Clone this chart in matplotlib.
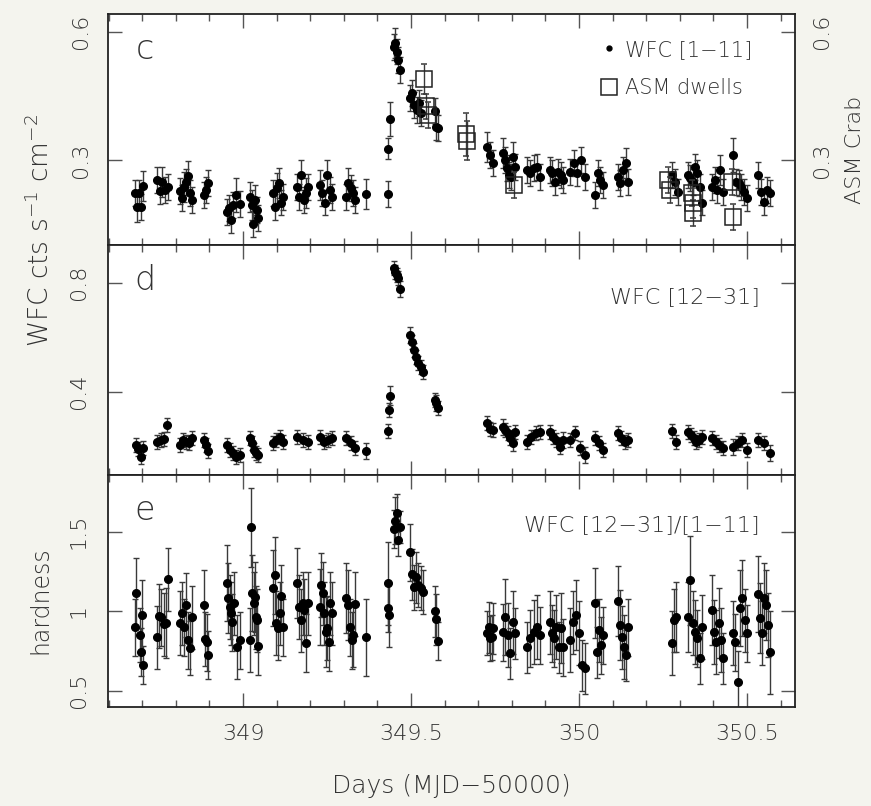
import numpy as np
import matplotlib
matplotlib.use('Agg')
import matplotlib.pyplot as plt
from matplotlib.lines import Line2D
from matplotlib.ticker import MultipleLocator

plt.rcParams['font.family'] = ['DejaVu Sans']
plt.rcParams['font.weight'] = 'light'
plt.rcParams['axes.labelweight'] = 'light'
plt.rcParams['mathtext.fontset'] = 'dejavusans'

## panel c : WFC [1-11]
t_c = [348.679, 348.684, 348.690, 348.696, 348.702,
       348.745, 348.752, 348.760, 348.768, 348.776,
       348.812, 348.818, 348.824, 348.830, 348.836, 348.842, 348.848,
       348.884, 348.890, 348.896,
       348.952, 348.958, 348.964, 348.970, 348.980, 348.990,
       349.021, 349.026, 349.031, 349.036, 349.041, 349.045,
       349.089, 349.095, 349.101, 349.107, 349.113, 349.119,
       349.161, 349.167, 349.173, 349.180, 349.187, 349.193,
       349.229, 349.236, 349.243, 349.250, 349.258, 349.265,
       349.307, 349.313, 349.320, 349.327, 349.333,
       349.366,
       349.430, 349.432, 349.437,
       349.449, 349.453, 349.457, 349.461, 349.467,
       349.497, 349.503, 349.510, 349.517, 349.524, 349.531,
       349.571, 349.575, 349.580,
       349.726, 349.735, 349.744,
       349.774, 349.780, 349.786, 349.792, 349.798, 349.804, 349.810,
       349.845, 349.855, 349.865, 349.875, 349.884,
       349.914, 349.921, 349.929, 349.937, 349.945, 349.952,
       349.973, 349.984, 349.995, 350.006, 350.018,
       350.048, 350.056, 350.064, 350.071,
       350.116, 350.123, 350.131, 350.139, 350.146,
       350.277, 350.286, 350.295,
       350.324, 350.331, 350.338, 350.345, 350.352, 350.359, 350.366,
       350.396, 350.404, 350.412, 350.420, 350.429,
       350.458, 350.466, 350.475, 350.483, 350.492, 350.500,
       350.533, 350.542, 350.551, 350.560, 350.568]
f_c = [0.223, 0.190, 0.223, 0.190, 0.239,
       0.253, 0.228, 0.249, 0.230, 0.237,
       0.228, 0.211, 0.237, 0.249, 0.263, 0.223, 0.206,
       0.218, 0.230, 0.246,
       0.178, 0.188, 0.160, 0.195, 0.218, 0.197,
       0.213, 0.195, 0.150, 0.206, 0.183, 0.164,
       0.223, 0.190, 0.235, 0.246, 0.200, 0.213,
       0.237, 0.213, 0.265, 0.206, 0.223, 0.237,
       0.242, 0.223, 0.200, 0.265, 0.230, 0.213,
       0.213, 0.246, 0.235, 0.223, 0.206,
       0.220,
       0.220, 0.326, 0.396,
       0.564, 0.573, 0.553, 0.534, 0.510,
       0.445, 0.457, 0.429, 0.417, 0.433, 0.410,
       0.415, 0.377, 0.375,
       0.330, 0.312, 0.293,
       0.316, 0.300, 0.281, 0.265, 0.260, 0.307, 0.284,
       0.277, 0.270, 0.281, 0.284, 0.260,
       0.277, 0.270, 0.249, 0.272, 0.265, 0.253,
       0.272, 0.293, 0.270, 0.300, 0.260,
       0.218, 0.270, 0.253, 0.242,
       0.260, 0.246, 0.277, 0.293, 0.249,
       0.265, 0.249, 0.225,
       0.265, 0.258, 0.249, 0.284, 0.270, 0.237, 0.200,
       0.237, 0.253, 0.230, 0.277, 0.225,
       0.312, 0.249, 0.246, 0.237, 0.225, 0.211,
       0.265, 0.225, 0.202, 0.230, 0.223]
e_c = [0.030, 0.035, 0.030, 0.030, 0.035,
       0.030, 0.030, 0.035, 0.030, 0.030,
       0.030, 0.030, 0.035, 0.030, 0.035, 0.030, 0.030,
       0.030, 0.030, 0.030,
       0.030, 0.030, 0.030, 0.030, 0.040, 0.030,
       0.035, 0.035, 0.030, 0.035, 0.030, 0.030,
       0.030, 0.030, 0.035, 0.035, 0.030, 0.030,
       0.030, 0.030, 0.035, 0.030, 0.035, 0.030,
       0.035, 0.030, 0.030, 0.035, 0.030, 0.030,
       0.030, 0.035, 0.030, 0.030, 0.030,
       0.035,
       0.030, 0.025, 0.040,
       0.030, 0.035, 0.030, 0.030, 0.030,
       0.030, 0.030, 0.030, 0.030, 0.030, 0.030,
       0.030, 0.030, 0.030,
       0.035, 0.030, 0.030,
       0.035, 0.030, 0.030, 0.030, 0.030, 0.035, 0.030,
       0.030, 0.030, 0.030, 0.030, 0.030,
       0.030, 0.030, 0.030, 0.030, 0.030, 0.030,
       0.030, 0.030, 0.030, 0.030, 0.030,
       0.030, 0.030, 0.030, 0.030,
       0.030, 0.030, 0.030, 0.035, 0.030,
       0.030, 0.030, 0.030,
       0.030, 0.030, 0.030, 0.030, 0.030, 0.030, 0.030,
       0.030, 0.030, 0.030, 0.035, 0.030,
       0.040, 0.030, 0.030, 0.030, 0.030, 0.030,
       0.030, 0.030, 0.030, 0.030, 0.030]

## ASM dwells
t_asm = [349.539, 349.545, 349.552, 349.665, 349.668, 349.807,
         350.265, 350.270, 350.336, 350.338, 350.340, 350.456, 350.458]
f_asm = [0.490, 0.425, 0.405, 0.360, 0.345, 0.242,
         0.253, 0.230, 0.223, 0.200, 0.176, 0.249, 0.167]
e_asm = [0.035, 0.030, 0.030, 0.050, 0.045, 0.030,
         0.030, 0.030, 0.030, 0.035, 0.030, 0.030, 0.030]

## panel d : WFC [12-31]
t_d = [348.680, 348.688, 348.695, 348.702,
       348.745, 348.755, 348.765, 348.774,
       348.812, 348.821, 348.830, 348.839, 348.848,
       348.884, 348.890, 348.896,
       348.952, 348.962, 348.971, 348.980, 348.990,
       349.021, 349.027, 349.033, 349.039, 349.045,
       349.089, 349.099, 349.109, 349.119,
       349.161, 349.177, 349.193,
       349.229, 349.241, 349.253, 349.265,
       349.307, 349.320, 349.333,
       349.366,
       349.430, 349.433, 349.436,
       349.449, 349.453, 349.457, 349.461, 349.467,
       349.497, 349.503, 349.509, 349.515, 349.522, 349.529, 349.536,
       349.571, 349.575, 349.580,
       349.726, 349.735, 349.744,
       349.774, 349.781, 349.788, 349.795, 349.803, 349.810,
       349.845, 349.858, 349.871, 349.884,
       349.914, 349.923, 349.933, 349.943, 349.952,
       349.973, 349.988, 350.003, 350.018,
       350.048, 350.060, 350.071,
       350.116, 350.126, 350.136, 350.146,
       350.277, 350.290,
       350.324, 350.332, 350.341, 350.349, 350.358, 350.366,
       350.396, 350.407, 350.418, 350.429,
       350.458, 350.472, 350.486, 350.500,
       350.533, 350.551, 350.568]
f_d = [0.204, 0.190, 0.160, 0.193,
       0.216, 0.223, 0.226, 0.277,
       0.204, 0.223, 0.216, 0.211, 0.230,
       0.223, 0.204, 0.182,
       0.204, 0.186, 0.175, 0.160, 0.168,
       0.230, 0.211, 0.186, 0.175, 0.168,
       0.211, 0.223, 0.234, 0.216,
       0.234, 0.223, 0.216,
       0.234, 0.216, 0.223, 0.230,
       0.230, 0.211, 0.193,
       0.182,
       0.256, 0.333, 0.385,
       0.853, 0.840, 0.828, 0.817, 0.776,
       0.608, 0.583, 0.553, 0.527, 0.505, 0.490, 0.472,
       0.370, 0.358, 0.340,
       0.285, 0.263, 0.260,
       0.270, 0.260, 0.248, 0.230, 0.211, 0.252,
       0.216, 0.234, 0.248, 0.252,
       0.252, 0.234, 0.223, 0.197, 0.223,
       0.223, 0.248, 0.193, 0.168,
       0.230, 0.211, 0.186,
       0.248, 0.230, 0.216, 0.223,
       0.256, 0.216,
       0.252, 0.241, 0.230, 0.216, 0.223, 0.234,
       0.230, 0.216, 0.204, 0.193,
       0.197, 0.211, 0.223, 0.186,
       0.223, 0.211, 0.175]
e_d = [0.025, 0.025, 0.025, 0.025,
       0.025, 0.025, 0.025, 0.025,
       0.025, 0.025, 0.025, 0.025, 0.025,
       0.025, 0.025, 0.025,
       0.025, 0.025, 0.025, 0.025, 0.025,
       0.025, 0.025, 0.025, 0.025, 0.025,
       0.025, 0.025, 0.025, 0.025,
       0.025, 0.025, 0.025,
       0.025, 0.025, 0.025, 0.025,
       0.025, 0.025, 0.025,
       0.030,
       0.025, 0.025, 0.035,
       0.025, 0.025, 0.025, 0.025, 0.030,
       0.030, 0.025, 0.025, 0.025, 0.025, 0.025, 0.025,
       0.025, 0.030, 0.025,
       0.025, 0.025, 0.025,
       0.030, 0.025, 0.025, 0.025, 0.030, 0.025,
       0.025, 0.025, 0.025, 0.025,
       0.025, 0.025, 0.025, 0.025, 0.030,
       0.025, 0.025, 0.025, 0.030,
       0.025, 0.025, 0.025,
       0.025, 0.025, 0.025, 0.025,
       0.025, 0.025,
       0.025, 0.025, 0.025, 0.025, 0.025, 0.025,
       0.025, 0.025, 0.025, 0.025,
       0.030, 0.025, 0.025, 0.025,
       0.025, 0.025, 0.030]

## panel e : hardness
t_e = [348.679, 348.682, 348.693, 348.696, 348.700, 348.703,
       348.745, 348.751, 348.757, 348.764, 348.770, 348.777,
       348.812, 348.818, 348.824, 348.830, 348.836, 348.842, 348.848,
       348.884, 348.888, 348.892, 348.896,
       348.952, 348.956, 348.960, 348.964, 348.968, 348.974, 348.982, 348.990,
       349.021, 349.024, 349.028, 349.032, 349.036, 349.039, 349.042, 349.045,
       349.089, 349.094, 349.099, 349.104, 349.109, 349.114, 349.119,
       349.161, 349.166, 349.172, 349.177, 349.182, 349.188, 349.193,
       349.229, 349.233, 349.238, 349.242, 349.247, 349.251, 349.256, 349.260, 349.265,
       349.307, 349.312, 349.318, 349.323, 349.328, 349.333,
       349.366,
       349.430, 349.432, 349.435,
       349.449, 349.453, 349.457, 349.461, 349.467,
       349.497, 349.503, 349.509, 349.515, 349.522, 349.529, 349.536,
       349.571, 349.575, 349.580,
       349.726, 349.731, 349.735, 349.740, 349.744,
       349.774, 349.781, 349.788, 349.795, 349.803, 349.810,
       349.845, 349.855, 349.865, 349.875, 349.884,
       349.914, 349.920, 349.927, 349.933, 349.940, 349.946, 349.952,
       349.973, 349.982, 349.991, 350.000, 350.009, 350.018,
       350.048, 350.054, 350.060, 350.065, 350.071,
       350.116, 350.122, 350.128, 350.134, 350.140, 350.146,
       350.277, 350.283, 350.290,
       350.324, 350.331, 350.338, 350.345, 350.352, 350.359, 350.366,
       350.396, 350.403, 350.409, 350.416, 350.422, 350.429,
       350.458, 350.465, 350.472, 350.479, 350.486, 350.493, 350.500,
       350.533, 350.539, 350.545, 350.551, 350.556, 350.562, 350.568]
f_e = [0.900, 1.113, 0.850, 0.742, 0.975, 0.660,
       0.836, 0.970, 0.962, 0.918, 0.925, 1.200,
       0.925, 0.987, 0.900, 1.038, 0.818, 0.767, 0.962,
       1.038, 0.824, 0.805, 0.723,
       1.176, 1.082, 1.025, 0.987, 0.930, 1.050, 0.774, 0.818,
       0.818, 1.528, 1.113, 1.050, 1.088, 0.962, 0.943, 0.780,
       1.145, 1.226, 0.925, 0.893, 0.987, 1.094, 0.900,
       1.176, 1.025, 0.943, 1.050, 1.006, 0.800, 1.050,
       1.025, 1.164, 1.113, 0.987, 0.868, 0.893, 0.805, 1.050, 0.987,
       1.082, 1.038, 0.900, 0.818, 0.850, 1.044,
       0.836,
       1.176, 1.019, 0.975,
       1.520, 1.570, 1.616, 1.446, 1.530,
       1.371, 1.233, 1.151, 1.214, 1.164, 1.145, 1.120,
       1.000, 0.950, 0.811,
       0.862, 0.900, 0.830, 0.836, 0.893,
       0.868, 0.962, 0.849, 0.736, 0.930, 0.862,
       0.774, 0.830, 0.868, 0.900, 0.849,
       0.930, 0.862, 0.830, 0.900, 0.774, 0.893, 0.774,
       0.818, 0.930, 0.975, 0.862, 0.660, 0.641,
       1.050, 0.742, 0.880, 0.786, 0.849,
       1.063, 0.912, 0.836, 0.774, 0.723, 0.900,
       0.800, 0.943, 0.962,
       0.962, 1.195, 0.925, 0.868, 0.830, 0.704, 0.900,
       1.006, 0.868, 0.805, 0.925, 0.818, 0.704,
       0.862, 0.805, 0.553, 1.019, 1.082, 0.943, 0.862,
       1.107, 0.956, 0.862, 1.082, 1.038, 0.912, 0.742]
e_e = [0.18, 0.22, 0.17, 0.15, 0.22, 0.12,
       0.20, 0.20, 0.18, 0.20, 0.22, 0.20,
       0.20, 0.20, 0.18, 0.20, 0.18, 0.17, 0.20,
       0.22, 0.17, 0.18, 0.15,
       0.24, 0.22, 0.20, 0.20, 0.18, 0.20, 0.20, 0.18,
       0.20, 0.25, 0.24, 0.20, 0.22, 0.20, 0.20, 0.18,
       0.24, 0.24, 0.20, 0.20, 0.20, 0.20, 0.18,
       0.22, 0.20, 0.20, 0.20, 0.20, 0.18, 0.20,
       0.24, 0.20, 0.20, 0.20, 0.22, 0.20, 0.18, 0.20, 0.20,
       0.22, 0.22, 0.18, 0.18, 0.20, 0.20,
       0.24,
       0.26, 0.15, 0.20,
       0.12, 0.15, 0.12, 0.10, 0.10,
       0.18, 0.16, 0.14, 0.16, 0.14, 0.14, 0.14,
       0.16, 0.16, 0.12,
       0.14, 0.16, 0.14, 0.14, 0.16,
       0.18, 0.24, 0.20, 0.16, 0.20, 0.16,
       0.16, 0.18, 0.20, 0.20, 0.18,
       0.20, 0.18, 0.18, 0.20, 0.16, 0.22, 0.18,
       0.20, 0.20, 0.22, 0.20, 0.16, 0.16,
       0.22, 0.16, 0.20, 0.18, 0.18,
       0.22, 0.22, 0.20, 0.20, 0.16, 0.18,
       0.20, 0.20, 0.22,
       0.22, 0.28, 0.20, 0.20, 0.18, 0.16, 0.20,
       0.22, 0.20, 0.20, 0.22, 0.20, 0.16,
       0.20, 0.18, 0.20, 0.24, 0.24, 0.20, 0.18,
       0.24, 0.22, 0.20, 0.22, 0.22, 0.20, 0.26]

bg = '#f4f4ee'
ink = '#333333'

fig = plt.figure(figsize=(8.71, 8.06), dpi=100, facecolor=bg)
L, W = 108/871., 687/871.
ax_c = fig.add_axes([L, 1-245/806., W, 231/806.])
ax_d = fig.add_axes([L, 1-475/806., W, 230/806.])
ax_e = fig.add_axes([L, 1-707/806., W, 232/806.])

eb = dict(fmt='o', ms=5.5, color='k', ecolor='#3a3a3a', elinewidth=1.0,
          capsize=2.5, capthick=1.0)

ax_c.errorbar(t_c, f_c, yerr=e_c, zorder=3, **eb)
ax_c.errorbar(t_asm, f_asm, yerr=e_asm, fmt='s', ms=11, mfc='none', mec='#222222',
              mew=1.1, ecolor='#3a3a3a', elinewidth=1.0, capsize=2.5, zorder=4)
ax_d.errorbar(t_d, f_d, yerr=e_d, **eb)
ax_e.errorbar(t_e, f_e, yerr=e_e, **eb)

ax_c.set_ylim(0.101, 0.641)
ax_d.set_ylim(0.094, 0.938)
ax_e.set_ylim(0.398, 1.857)
ax_c.set_yticks([0.3, 0.6])
ax_c.set_yticklabels(['0.3', '0.6'])
ax_d.set_yticks([0.4, 0.8])
ax_d.set_yticklabels(['0.4', '0.8'])
ax_e.set_yticks([0.5, 1.0, 1.5])
ax_e.set_yticklabels(['0.5', '1', '1.5'])

for ax in (ax_c, ax_d, ax_e):
    ax.set_facecolor('white')
    ax.set_xlim(348.598, 350.643)
    ax.xaxis.set_major_locator(MultipleLocator(0.5))
    ax.xaxis.set_minor_locator(MultipleLocator(0.1))
    ax.tick_params(which='both', direction='in', top=True, right=True,
                   color='#555555', width=1.0)
    ax.tick_params(which='major', length=10)
    ax.tick_params(which='minor', length=5)
    ax.tick_params(axis='y', which='major', length=10, pad=14, labelsize=16,
                   labelcolor=ink, labelrotation=90)
    for lab in ax.get_yticklabels():
        lab.set_verticalalignment('center')
    ax.tick_params(axis='x', labelsize=16, labelcolor=ink, pad=12)
    for s in ax.spines.values():
        s.set_linewidth(1.3)
        s.set_color('#222222')

ax_c.tick_params(axis='x', labelbottom=False)
ax_d.tick_params(axis='x', labelbottom=False)
ax_e.set_xticks([349.0, 349.5, 350.0, 350.5])
ax_e.set_xticklabels(['349', '349.5', '350', '350.5'])

# right-hand ASM scale on top panel
ax_c.tick_params(axis='y', labelright=True, pad=12)
for lab in ax_c.get_yticklabels(which='both'):
    lab.set_verticalalignment('center')

ax_e.set_xlabel('Days (MJD\u221250000)', fontsize=18, color=ink, labelpad=22)

fig.text(40/871., 1-230/806., 'WFC cts s$^{-1}$ cm$^{-2}$', rotation=90,
         ha='center', va='center', fontsize=19, color=ink)
fig.text(40/871., 1-600/806., 'hardness', rotation=90,
         ha='center', va='center', fontsize=17, color=ink)
fig.text(855/871., 1-150/806., 'ASM Crab', rotation=90,
         ha='center', va='center', fontsize=16, color=ink)

for ax, letter in ((ax_c, 'c'), (ax_d, 'd'), (ax_e, 'e')):
    ax.text(0.054, 0.845, letter, transform=ax.transAxes, fontsize=24,
            color=ink, ha='center', va='center')

h1 = Line2D([], [], ls='none', marker='o', ms=3.5, color='k')
h2 = Line2D([], [], ls='none', marker='s', ms=11, mfc='none', mec='#222222', mew=1.1)
leg = ax_c.legend([h1, h2], ['WFC [1\u221211]', 'ASM dwells'], loc='upper right',
                  bbox_to_anchor=(0.965, 0.97), frameon=False, fontsize=15,
                  handlelength=0.8, handletextpad=0.35, labelspacing=0.9)
for t in leg.get_texts():
    t.set_color(ink)

ax_d.text(0.949, 0.774, 'WFC [12\u221231]', transform=ax_d.transAxes,
          ha='right', va='center', fontsize=16, color=ink)
ax_e.text(0.949, 0.784, 'WFC [12\u221231]/[1\u221211]', transform=ax_e.transAxes,
          ha='right', va='center', fontsize=16, color=ink)

plt.savefig('out.png', dpi=100, facecolor=bg)
